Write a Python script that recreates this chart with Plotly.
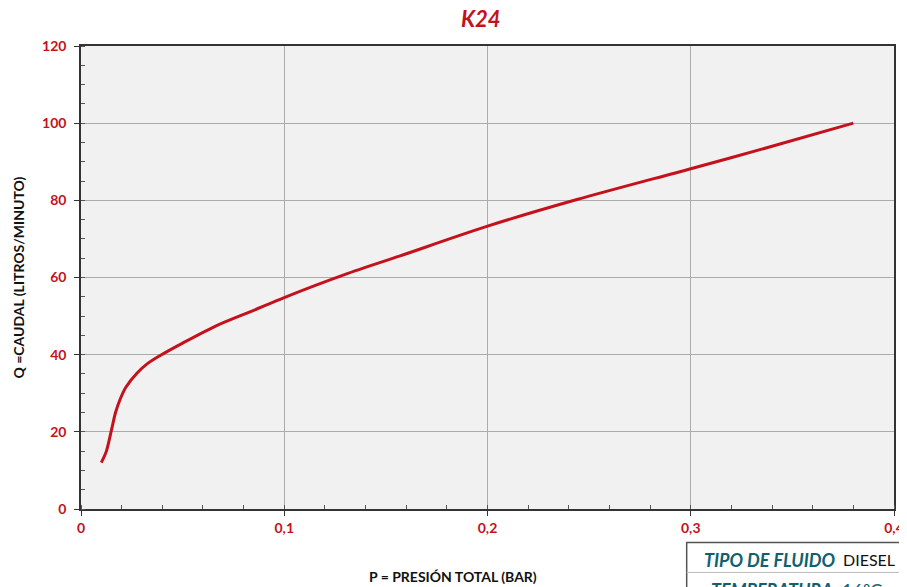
import plotly.graph_objects as go

# Data
presion = [0.010, 0.0125, 0.015, 0.017, 0.0193, 0.022, 0.0275, 0.033, 0.039, 0.050,
           0.067, 0.085, 0.100, 0.130, 0.157, 0.200, 0.244, 0.300, 0.340, 0.380]
caudal = [12.0, 15.0, 20.5, 25.0, 28.5, 31.5, 35.2, 37.8, 39.8, 43.0,
          47.6, 51.5, 54.8, 60.8, 65.6, 73.3, 80.2, 88.2, 94.0, 100.0]

x_ticks = [0, 0.1, 0.2, 0.3, 0.4]
x_labels = ["0", "0,1", "0,2", "0,3", "0,4"]
y_ticks = [0, 20, 40, 60, 80, 100, 120]

RED = "#c4111b"
TEAL = "#0f6170"
FONT = "Lato"

fig = go.Figure()
fig.add_trace(go.Scatter(
    x=presion, y=caudal, mode="lines",
    line=dict(color=RED, width=3, shape="spline", smoothing=0.8),
    hoverinfo="skip", showlegend=False,
))

axis_common = dict(
    showline=True, linecolor="#333333", linewidth=1.5, mirror=True,
    showgrid=True, gridcolor="#ababab", gridwidth=1,
    zeroline=False, automargin=False,
    ticks="outside", ticklen=5, tickcolor="#333333", tickwidth=1,
    tickfont=dict(family=FONT, size=14, color=RED, weight="bold"),
)

fig.update_xaxes(
    range=[0, 0.4], tickvals=x_ticks, ticktext=x_labels,
    minor=dict(dtick=0.02, tick0=0, ticks="inside", ticklen=4, tickcolor="#555555", showgrid=False),
    **axis_common,
)
fig.update_yaxes(
    range=[0, 120], tickvals=y_ticks, ticklabelstandoff=5,
    minor=dict(dtick=5, tick0=0, ticks="inside", ticklen=4, tickcolor="#555555", showgrid=False),
    **axis_common,
)

fig.update_layout(
    width=899, height=579,
    margin=dict(l=73, r=13, t=38, b=77.5),
    plot_bgcolor="#f1f1f1", paper_bgcolor="white",
    separators=",.",
    annotations=[
        dict(text="<b><i>K24</i></b>", x=0.5, y=1.0, xref="paper", yref="paper",
             xanchor="center", yanchor="bottom", xshift=-7, yshift=12, showarrow=False,
             font=dict(family=FONT, size=22, color=RED)),
        dict(text="<b>P = PRESIÓN TOTAL (BAR)</b>", x=0.4576, y=0, xref="paper", yref="paper",
             xanchor="center", yanchor="top", yshift=-57, showarrow=False,
             font=dict(family=FONT, size=14, color="#111111")),
        dict(text="<b>Q =CAUDAL (LITROS/MINUTO)</b>", x=0, y=0.5, xref="paper", yref="paper",
             xanchor="center", yanchor="middle", xshift=-63, textangle=-90, showarrow=False,
             font=dict(family=FONT, size=14, color="#111111")),
        dict(text="<b><i>TIPO DE FLUIDO</i></b>", x=0.7638, y=0, xref="paper", yref="paper",
             xanchor="left", yanchor="top", yshift=-38, showarrow=False,
             font=dict(family=FONT, size=18, color=TEAL)),
        dict(text="DIESEL", x=0.935, y=0, xref="paper", yref="paper",
             xanchor="left", yanchor="top", yshift=-39, showarrow=False,
             font=dict(family=FONT, size=16, color="#111111")),
        dict(text="<b><i>TEMPERATURA</i></b>  16ºC", x=0.7725, y=0, xref="paper", yref="paper",
             xanchor="left", yanchor="top", yshift=-68, showarrow=False,
             font=dict(family=FONT, size=18, color=TEAL)),
    ],
    shapes=[
        dict(type="rect", xref="paper", yref="paper", x0=0.745, x1=1.06, y0=-0.3, y1=-0.0723,
             line=dict(color="#555555", width=1.5), fillcolor="rgba(0,0,0,0)", layer="above"),
        dict(type="line", xref="paper", yref="paper", x0=0.745, x1=1.06, y0=-0.137, y1=-0.137,
             line=dict(color="#bbbbbb", width=1)),
    ],
)

fig.write_html("out.html")
